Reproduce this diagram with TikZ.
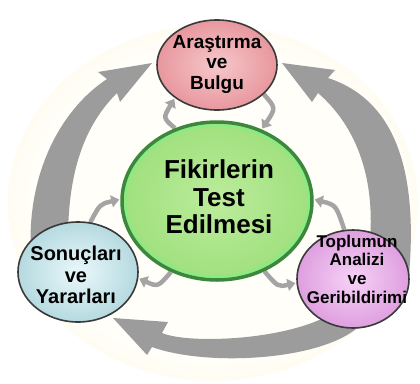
\documentclass[tikz,border=0pt]{standalone}
\usepackage{fontspec}
\setmainfont{Liberation Sans}
\usetikzlibrary{arrows.meta,shapes.geometric}
\definecolor{bgin}{HTML}{FFFEF8}
\definecolor{bgmid}{HTML}{FDF8E0}
\definecolor{bgout}{HTML}{F8EEBE}
\definecolor{bigarrow}{HTML}{9C9C9C}
\definecolor{smallarrow}{HTML}{A4A4A4}
\definecolor{bubbleline}{HTML}{3A3A3A}
\definecolor{pinkin}{HTML}{F5C8CB}
\definecolor{pinkout}{HTML}{E8979E}
\definecolor{bluein}{HTML}{EAF8FA}
\definecolor{blueout}{HTML}{B5DAE0}
\definecolor{lavin}{HTML}{F6D2F6}
\definecolor{lavout}{HTML}{DF9FDF}
\definecolor{greenin}{HTML}{BCEC9C}
\definecolor{greenout}{HTML}{A0E07E}
\definecolor{greenline}{HTML}{3B883D}
\definecolor{greenring}{HTML}{86EC86}
\pgfdeclareradialshading{bgglow}{\pgfpointorigin}{color(0bp)=(bgin); color(22bp)=(bgin); color(34bp)=(bgmid); color(46bp)=(bgout); color(50bp)=(bgout)}
\pgfdeclarelayer{back}
\pgfdeclarelayer{mid}
\pgfsetlayers{back,mid,main}
\tikzset{
  bubble/.style={ellipse, draw=bubbleline, line width=1.6pt, inner sep=0pt},
  txt/.style={align=center, inner sep=0pt, text=black},
  bigarr/.style={fill=bigarrow},
  smallarr/.style={draw=smallarrow, line width=4.5pt, -{Triangle[length=8pt,width=12pt]}, shorten >=1pt}
}
\begin{document}
\begin{tikzpicture}[x=1pt,y=-1pt]
\useasboundingbox (0,0) rectangle (420,383);
\begin{pgfonlayer}{back}
  \fill[white] (0,0) rectangle (420,383);
  \shade[shading=bgglow] (213,203) ellipse [x radius=205, y radius=178];
\end{pgfonlayer}

% circles
\node[bubble, inner color=pinkin, outer color=pinkout, minimum width=120pt, minimum height=90pt] (T) at (217,65) {};
\node[bubble, inner color=bluein, outer color=blueout, minimum width=120pt, minimum height=100pt] (L) at (78,272) {};
\node[bubble, inner color=lavin, outer color=lavout, minimum width=112pt, minimum height=98pt] (R) at (353,279) {};
\node[ellipse, draw=greenline, line width=3.5pt, inner color=greenin, outer color=greenout, minimum width=190pt, minimum height=158pt, inner sep=0pt] (C) at (217,201) {};
\draw[greenring, line width=2pt] (C.center) ellipse [x radius=91.5, y radius=75.5];

% texts
\node[txt, font=\bfseries\fontsize{19}{20.5}\selectfont] (Tt) at (217,64) {Araştırma\\ve\\Bulgu};
\node[txt, font=\bfseries\fontsize{20}{21.5}\selectfont] (Lt) at (76,275) {Sonuçları\\ve\\Yararları};
\node[txt, font=\bfseries\fontsize{17}{18.7}\selectfont] (Rt) at (357,269) {Toplumun\\Analizi\\ve\\Geribildirimi};
\node[txt, font=\bfseries\fontsize{26}{27.5}\selectfont] (Ct) at (219,197) {Fikirlerin\\Test\\Edilmesi};

\begin{pgfonlayer}{mid}
  % big arrows
  \fill[bigarr] (31,255) .. controls (26,175) and (60,110) .. (107,79) -- (98,72) -- (152,63) -- (120,102) -- (117,93) .. controls (85,125) and (68,170) .. (68,240) -- cycle;
  \fill[bigarr] (409,275) .. controls (418,170) and (395,100) .. (328,78) -- (335,70) -- (282,63) -- (312,102) -- (318,93) .. controls (355,125) and (375,175) .. (370,240) -- cycle;
  \fill[bigarr] (340,308) .. controls (300,340) and (190,345) .. (162,333) -- (168,322) -- (113,318) -- (147,355) -- (152,347) .. controls (210,368) and (335,360) .. (365,320) -- cycle;
  % small arrows
  \draw[smallarr] (C.120) .. controls (163,118) .. (T.218);
  \draw[smallarr] (T.328) .. controls (276,108) .. (C.58);
  \draw[smallarr] (L.76) .. controls (100,204) .. (C.179);
  \draw[smallarr] (C.237) .. controls (158,287) .. (L.-6);
  \draw[smallarr] (R.100) .. controls (336,205) .. (C.1);
  \draw[smallarr] (C.-56) .. controls (278,287) .. (R.184);
\end{pgfonlayer}
\end{tikzpicture}
\end{document}
